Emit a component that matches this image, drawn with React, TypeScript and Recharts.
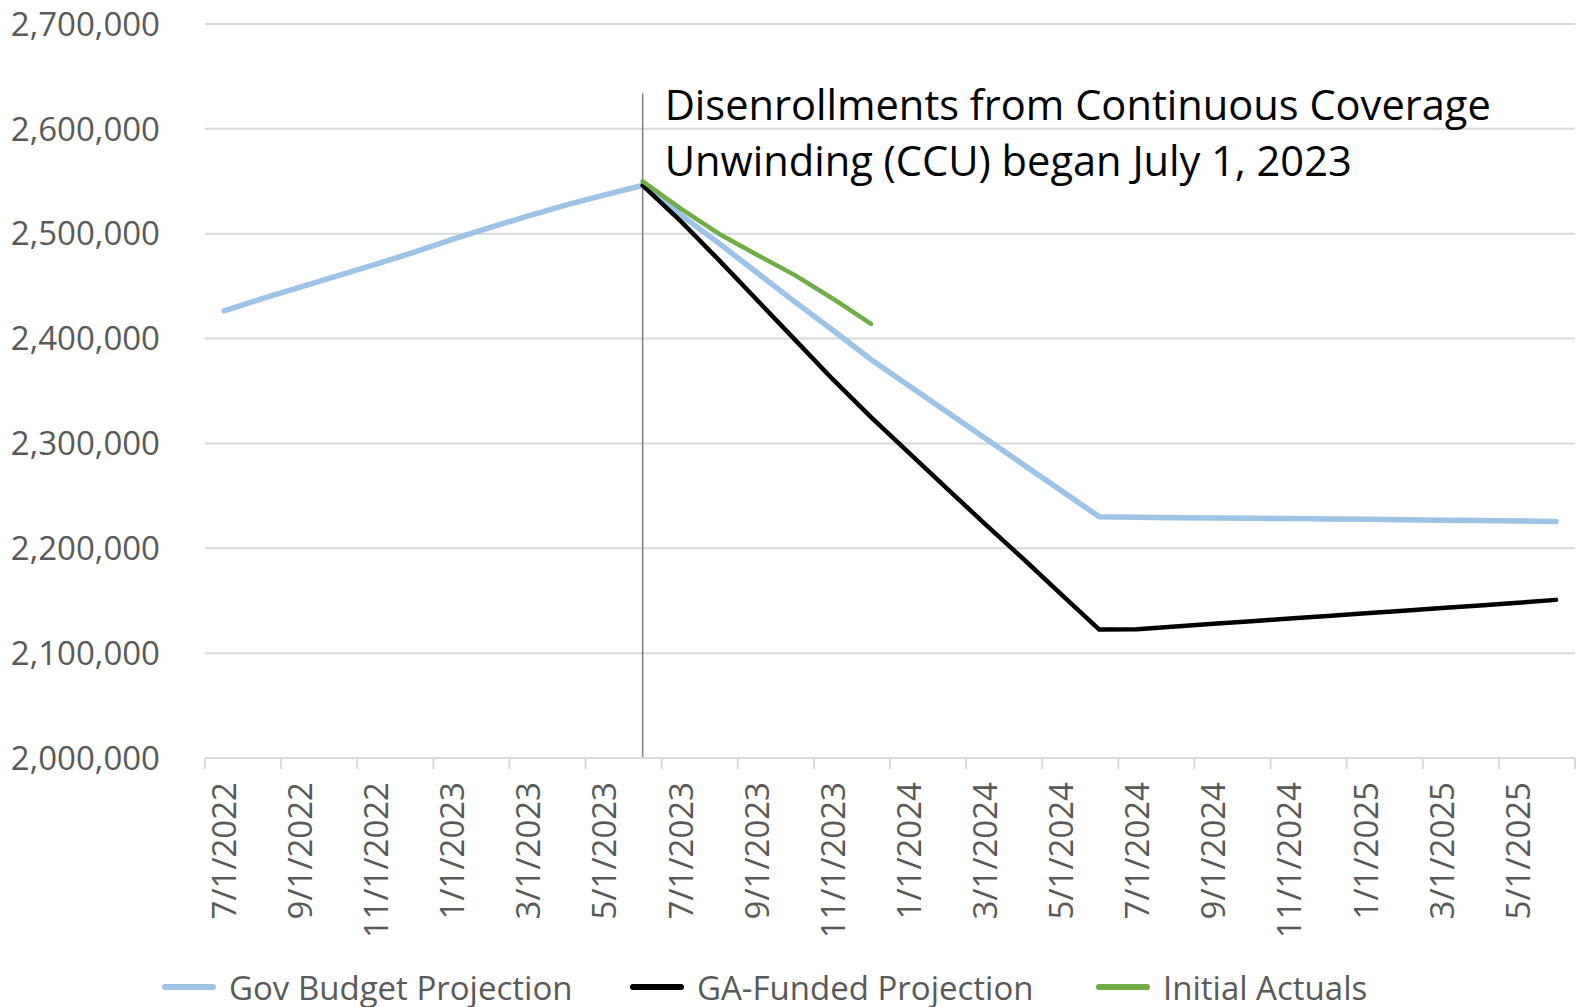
import React from 'react';
import {
  LineChart,
  Line,
  XAxis,
  YAxis,
  CartesianGrid,
  ReferenceLine,
  Legend,
} from 'recharts';

const months = [
  '7/1/2022', '8/1/2022', '9/1/2022', '10/1/2022', '11/1/2022', '12/1/2022',
  '1/1/2023', '2/1/2023', '3/1/2023', '4/1/2023', '5/1/2023', '6/1/2023',
  '7/1/2023', '8/1/2023', '9/1/2023', '10/1/2023', '11/1/2023', '12/1/2023',
  '1/1/2024', '2/1/2024', '3/1/2024', '4/1/2024', '5/1/2024', '6/1/2024',
  '7/1/2024', '8/1/2024', '9/1/2024', '10/1/2024', '11/1/2024', '12/1/2024',
  '1/1/2025', '2/1/2025', '3/1/2025', '4/1/2025', '5/1/2025', '6/1/2025',
];

const govBudget = [
  2426500, 2438000, 2449000, 2460000, 2471000, 2482500,
  2494500, 2506000, 2517000, 2527500, 2537000, 2546000,
  2518000, 2491000, 2463000, 2435000, 2408000, 2380000,
  2355000, 2330000, 2305000, 2280000, 2255000, 2230000,
  2229500, 2229200, 2228900, 2228600, 2228300, 2228000,
  2227600, 2227200, 2226800, 2226400, 2226000, 2225600,
];

const gaFunded = [
  null, null, null, null, null, null,
  null, null, null, null, null, 2546000,
  2512000, 2475000, 2437000, 2399000, 2361000, 2325000,
  2291000, 2257000, 2223000, 2190000, 2156000, 2122500,
  2122800, 2125500, 2128000, 2130500, 2133000, 2135500,
  2138000, 2140500, 2143000, 2145500, 2148000, 2150800,
];

const initialActuals = [
  null, null, null, null, null, null,
  null, null, null, null, null, 2550000,
  2524000, 2500000, 2480000, 2460500, 2438000, 2414000,
  null, null, null, null, null, null,
  null, null, null, null, null, null,
  null, null, null, null, null, null,
];

const yTicks = [2000000, 2100000, 2200000, 2300000, 2400000, 2500000, 2600000, 2700000];

const seriesNames = ['Gov Budget Projection', 'GA-Funded Projection', 'Initial Actuals'];
const seriesColors = ['#9DC3E6', '#000000', '#70AD47'];

const annotationLines = [
  'Disenrollments from Continuous Coverage',
  'Unwinding (CCU) began July 1, 2023',
];
const ccuStart = '6/1/2023';

const data = months.map((m, i) => ({
  month: m,
  gov: govBudget[i],
  ga: gaFunded[i],
  actual: initialActuals[i],
}));

// layout
const W = 1587;
const H = 1007;
const Y_AXIS_W = 205;
const MARGIN_RIGHT = 12;
const STEP = (W - Y_AXIS_W - MARGIN_RIGHT) / months.length;
const FONT = "'Open Sans', sans-serif";
const GREY = '#595959';
const LEGEND_X = [162, 630, 1096];

const fmt = (v: number) => v.toLocaleString('en-US');

const MonthTick = ({ x, y, payload }: any) => {
  const bx = x - STEP / 2;
  const ly = y + 24;
  return (
    <g>
      <line x1={bx} y1={y} x2={bx} y2={y + 11} stroke="#D9D9D9" strokeWidth={2} />
      {payload.value === months[months.length - 2] && (
        <line x1={x + 1.5 * STEP} y1={y} x2={x + 1.5 * STEP} y2={y + 11} stroke="#D9D9D9" strokeWidth={2} />
      )}
      <text
        x={x}
        y={ly}
        transform={`rotate(-90, ${x}, ${ly})`}
        textAnchor="end"
        dy="0.36em"
        fill={GREY}
        fontSize={33}
        fontFamily={FONT}
      >
        {payload.value}
      </text>
    </g>
  );
};

const AnnotationLabel = ({ viewBox }: any) => {
  const x = viewBox.x + 22;
  const y = viewBox.y;
  return (
    <g>
      <text x={x} y={y + 27} fill="#000" fontSize={41.6} fontFamily={FONT}>{annotationLines[0]}</text>
      <text x={x} y={y + 83} fill="#000" fontSize={41.6} fontFamily={FONT}>{annotationLines[1]}</text>
    </g>
  );
};

const LegendContent = () => (
  <div style={{ position: 'relative', width: W, height: 34, fontFamily: FONT }}>
    {seriesNames.map((name, i) => (
      <div
        key={name}
        style={{ position: 'absolute', left: LEGEND_X[i], top: 0, height: 34, display: 'flex', alignItems: 'center' }}
      >
        <span style={{ display: 'inline-block', width: 54, height: 6, borderRadius: 3, background: seriesColors[i], marginRight: 13 }} />
        <span style={{ fontSize: 33, lineHeight: '33px', color: GREY, whiteSpace: 'nowrap' }}>{name}</span>
      </div>
    ))}
  </div>
);

export default function App() {
  return (
    <div style={{ position: 'absolute', left: 0, top: 0, width: W, height: H, background: '#fff', fontFamily: FONT }}>
      <LineChart width={W} height={H} data={data} margin={{ top: 24, right: MARGIN_RIGHT, left: 0, bottom: 49 }}>
        <CartesianGrid vertical={false} stroke="#D9D9D9" strokeWidth={2} />
        <XAxis
          dataKey="month"
          interval={1}
          padding={{ left: STEP / 2, right: STEP / 2 }}
          height={200}
          tickSize={0}
          tickMargin={0}
          tickLine={false}
          axisLine={{ stroke: '#D9D9D9', strokeWidth: 2 }}
          tick={<MonthTick />}
        />
        <YAxis
          domain={[2000000, 2700000]}
          ticks={yTicks}
          width={Y_AXIS_W}
          tickSize={0}
          tickMargin={45}
          axisLine={false}
          tickLine={false}
          tickFormatter={fmt}
          tick={{ fill: GREY, fontSize: 33, fontFamily: FONT }}
        />
        <ReferenceLine
          segment={[{ x: ccuStart, y: 2634000 }, { x: ccuStart, y: 2000000 }]}
          stroke="#7F7F7F"
          strokeWidth={1.5}
          label={AnnotationLabel}
        />
        <Line dataKey="gov" name={seriesNames[0]} stroke={seriesColors[0]} strokeWidth={5.5} dot={false} strokeLinecap="round" strokeLinejoin="round" isAnimationActive={false} />
        <Line dataKey="ga" name={seriesNames[1]} stroke={seriesColors[1]} strokeWidth={4.5} dot={false} strokeLinecap="round" strokeLinejoin="round" isAnimationActive={false} />
        <Line dataKey="actual" name={seriesNames[2]} stroke={seriesColors[2]} strokeWidth={4.5} dot={false} strokeLinecap="round" strokeLinejoin="round" isAnimationActive={false} />
        <Legend
          layout="horizontal"
          verticalAlign="middle"
          align="center"
          content={<LegendContent />}
          wrapperStyle={{ top: 970, left: 0, width: W }}
        />
      </LineChart>
    </div>
  );
}
